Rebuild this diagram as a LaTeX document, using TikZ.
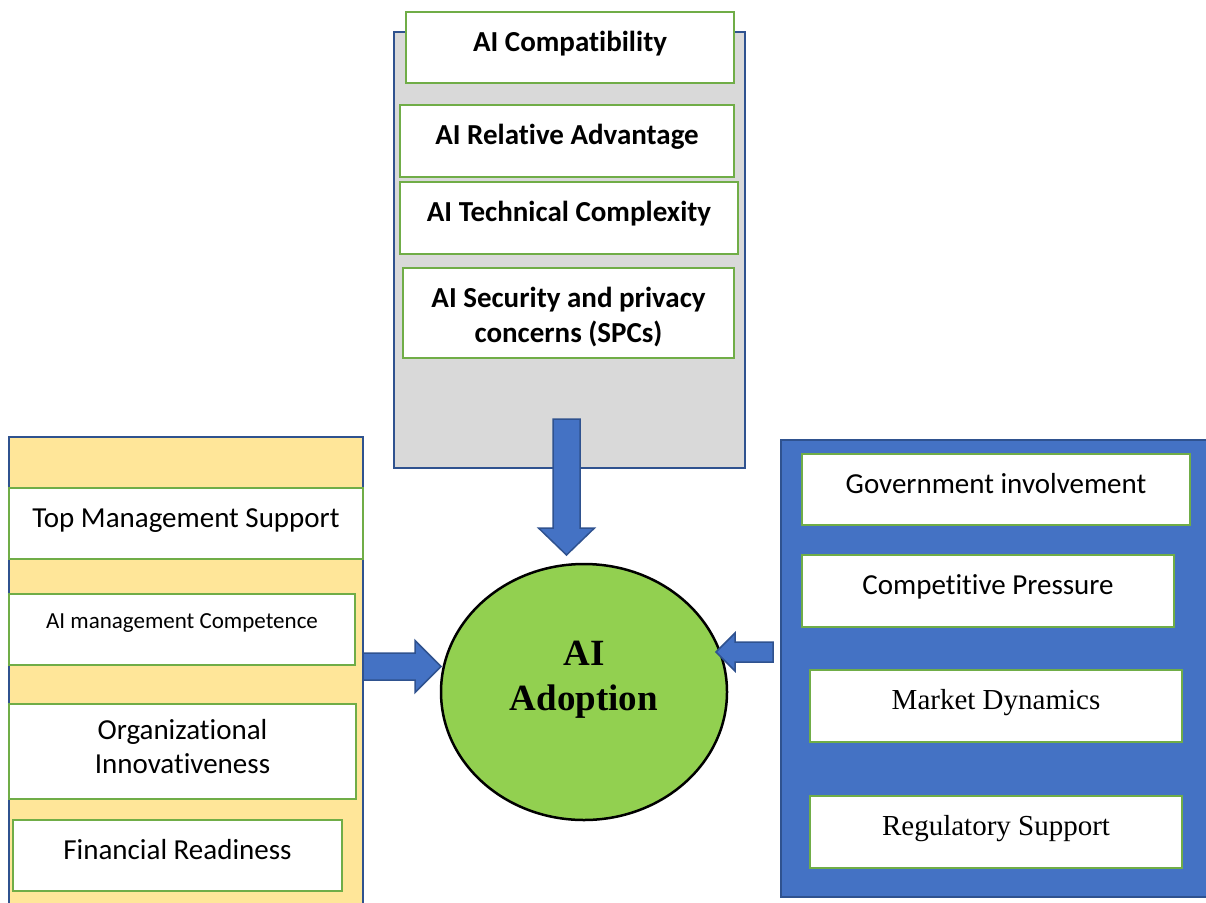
\documentclass[tikz,border=0pt]{standalone}
\usepackage{fontspec}
\setmainfont{Liberation Serif}
\setsansfont{Carlito}[RawFeature={-liga;-clig;-calt;-dlig}]
\usepackage{tikz}
\usetikzlibrary{shapes.geometric, calc}
\definecolor{edgeblue}{RGB}{47, 82, 143}
\definecolor{panelblue}{RGB}{68, 114, 196}
\definecolor{greyfill}{RGB}{217, 217, 217}
\definecolor{sandfill}{RGB}{255, 230, 153}
\definecolor{boxgreen}{RGB}{112, 173, 71}
\definecolor{adoptgreen}{RGB}{146, 208, 80}

% block arrow from #1 to #2: shaft half width, head half width, head length
\newcommand{\fatarrow}[5]{%
	\draw[fatarr] let \p1=(#1), \p2=(#2), \n1={atan2(\y2-\y1,\x2-\x1)} in
		($(\p1)+(\n1+90:#3)$) -- ($(\p2)+(\n1+180:#5)+(\n1+90:#3)$) -- ($(\p2)+(\n1+180:#5)+(\n1+90:#4)$)
		-- (\p2) -- ($(\p2)+(\n1+180:#5)+(\n1-90:#4)$) -- ($(\p2)+(\n1+180:#5)+(\n1-90:#3)$)
		-- ($(\p1)+(\n1-90:#3)$) -- cycle;}

\begin{document}
\begin{tikzpicture}[
				x=1pt, y=-1pt,
				panel/.style={rectangle, draw=edgeblue, line width=2pt},
				factorbox/.style={rectangle, draw=boxgreen, fill=white, line width=2pt, align=center, text height=20pt, text depth=12.5pt, font=\sffamily\fontsize{29}{35}\selectfont},
				techbox/.style={factorbox, font=\sffamily\bfseries\fontsize{29}{35}\selectfont},
				envbox/.style={factorbox, font=\rmfamily\fontsize{29}{35}\selectfont},
				fatarr/.style={draw=edgeblue, fill=panelblue, line width=1.5pt, line join=miter}
				]
				\useasboundingbox (0,0) rectangle (1206,902);
				
				% Technology context
				\node[panel, fill=greyfill, minimum width=351pt, minimum height=436pt] (techpanel) at (569.5, 250) {};
				\node[techbox, minimum width=328pt, minimum height=71pt] (compat) at (570, 47.5) {AI Compatibility};
				\node[techbox, minimum width=334pt, minimum height=72pt] (reladv) at (567, 141) {AI Relative Advantage};
				\node[techbox, minimum width=338pt, minimum height=72pt] (complex) at (569, 218) {AI Technical Complexity};
				\node[techbox, minimum width=331pt, minimum height=90pt, text height=65pt, text depth=6pt] (secpriv) at (568.5, 313) {AI Security and privacy\\concerns (SPCs)};
				
				% Organization context
				\node[panel, fill=sandfill, minimum width=354pt, minimum height=473pt] (orgpanel) at (186, 673.5) {};
				\node[factorbox, minimum width=354pt, minimum height=71pt] (topmgmt) at (186, 523.5) {Top Management Support};
				\node[factorbox, minimum width=346pt, minimum height=71pt, text height=16pt, text depth=18pt, font=\sffamily\fontsize{23}{28}\selectfont] (mgmtcomp) at (182, 629.5) {AI management Competence};
				\node[factorbox, minimum width=347pt, minimum height=95pt, text height=50pt, text depth=6pt, font=\sffamily\fontsize{29}{34}\selectfont] (orginnov) at (182.5, 751.5) {Organizational\\Innovativeness};
				\node[factorbox, minimum width=329pt, minimum height=71pt] (finready) at (177.5, 855.5) {Financial Readiness};
				
				% Environment context
				\node[panel, fill=panelblue, minimum width=431pt, minimum height=457pt] (envpanel) at (996.5, 668.5) {};
				\node[factorbox, minimum width=388pt, minimum height=71pt] (govinv) at (996, 489.5) {Government involvement};
				\node[factorbox, minimum width=372pt, minimum height=72pt] (compress) at (988, 591) {Competitive Pressure};
				\node[envbox, minimum width=372pt, minimum height=72pt] (mktdyn) at (996, 706) {Market Dynamics};
				\node[envbox, minimum width=372pt, minimum height=72pt] (regsup) at (996, 832) {Regulatory Support};
				
				% Adoption
				\node[ellipse, draw=black, fill=adoptgreen, line width=2.5pt, minimum width=286pt, minimum height=256pt, align=center,
					text height=45.5pt, text depth=8pt, font=\rmfamily\bfseries\fontsize{37}{45}\selectfont] (adopt) at (584, 692) {AI\\Adoption};
				
				% Arrows
				\coordinate (techout) at (566.5, 419);
				\coordinate (techin) at (566.5, 555);
				\coordinate (orgout) at (363, 666.5);
				\coordinate (orgin) at (441, 666.5);
				\coordinate (envout) at (773, 652);
				\coordinate (envin) at (716, 652);
				\fatarrow{techout}{techin}{13.5pt}{28pt}{27pt}
				\fatarrow{orgout}{orgin}{13.5pt}{26pt}{26pt}
				\fatarrow{envout}{envin}{10pt}{19pt}{19pt}
			\end{tikzpicture}
\end{document}
